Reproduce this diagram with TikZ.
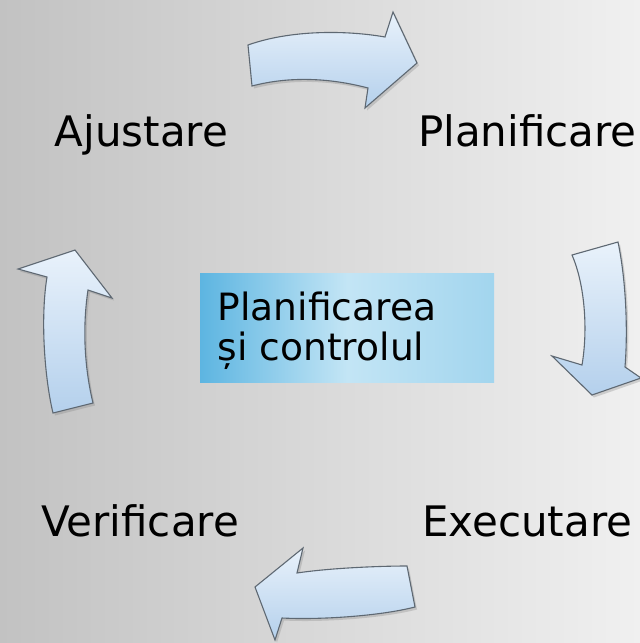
\documentclass[tikz,border=0pt]{standalone}
\usepackage{fontspec}
\setmainfont{DejaVu Sans}
\usetikzlibrary{shadows}
\definecolor{bgL}{HTML}{C2C2C2}
\definecolor{bgR}{HTML}{F0F0F0}
\definecolor{arrTop}{HTML}{E9F2FB}
\definecolor{arrBot}{HTML}{B4D0EC}
\definecolor{arrLine}{HTML}{5E6872}
\definecolor{boxL}{HTML}{5DB5E1}
\definecolor{boxM}{HTML}{C3E5F5}
\definecolor{boxR}{HTML}{A2D5EE}
\tikzset{
  blockarrow/.style={draw=arrLine, line width=1.1pt, line join=miter, top color=arrTop, bottom color=arrBot,
    drop shadow={shadow xshift=2pt, shadow yshift=-2.5pt, opacity=0.3}},
  label/.style={anchor=base west, inner sep=0pt, font=\fontsize{42}{46}\selectfont, text=black},
  ctext/.style={anchor=base west, inner sep=0pt, font=\fontsize{37.6}{42}\selectfont, text=black},
  centerbox/.style={anchor=north west, inner sep=0pt, minimum width=294pt, minimum height=109pt,
    left color=boxL, right color=boxR, middle color=boxM}
}
\begin{document}
\begin{tikzpicture}[x=1pt,y=-1pt]
\useasboundingbox (0,0) rectangle (640,643);
\shade[left color=bgL, right color=bgR] (0,0) rectangle (640,643);
% arrows
\path[blockarrow] (248,45) .. controls (290,30) and (345,30) .. (385,37) -- (393,12) -- (417,63) -- (365,108) -- (368,88)
  .. controls (330,78) and (290,76) .. (252,86) -- cycle;
\path[blockarrow] (572,255) -- (618,242) .. controls (626,280) and (628,330) .. (625,367) -- (641,378) -- (592,395) -- (552,356) -- (582,365)
  .. controls (588,330) and (585,285) .. (572,255) -- cycle;
\path[blockarrow] (407,566) .. controls (380,566) and (330,568) .. (297,573) -- (303,548) -- (255,587) -- (275,640) -- (282,618)
  .. controls (320,620) and (380,616) .. (415,607) -- cycle;
\path[blockarrow] (53,413) .. controls (45,380) and (40,320) .. (47,277) -- (18,269) -- (75,250) -- (112,298) -- (88,290)
  .. controls (82,330) and (85,370) .. (93,403) -- cycle;
% labels
\node[label] (ajust) at (54.5,146.7) {Ajustare};
\node[label] (plan) at (418,146.7) {Planificare};
\node[label] (verif) at (41,536.7) {Verificare};
\node[label] (exec) at (422,536.7) {Executare};
% center
\node[centerbox] (box) at (200,273) {};
\node[ctext] (c1) at (217.5,320) {Planificarea};
\node[ctext] (c2) at (217.5,360) {și controlul};
\end{tikzpicture}
\end{document}
